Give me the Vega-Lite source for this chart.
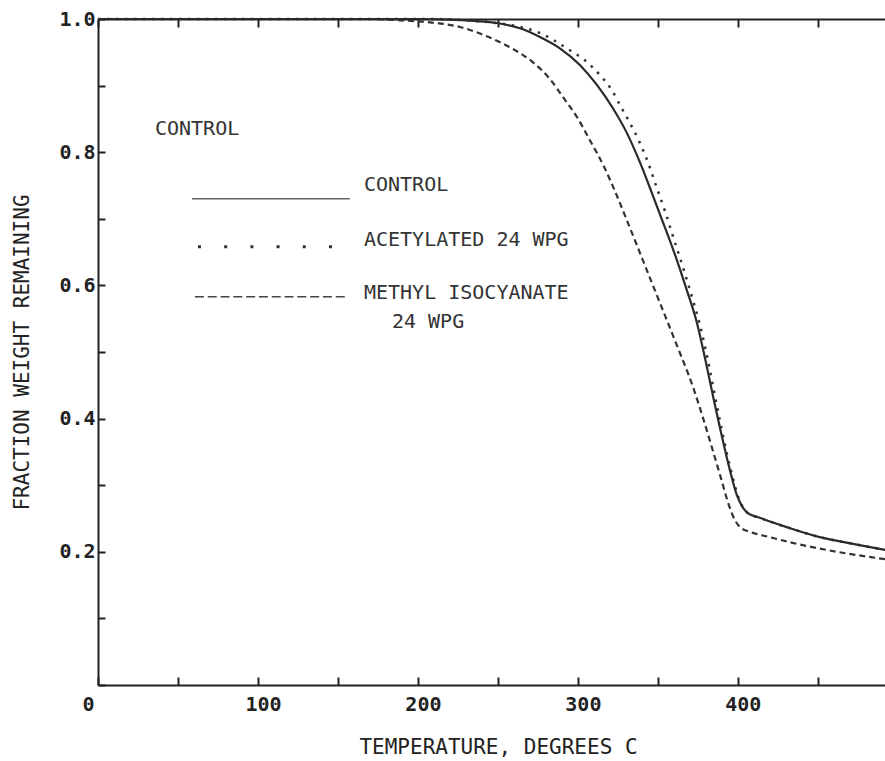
{
  "$schema": "https://vega.github.io/schema/vega-lite/v6.json",
  "width": 787,
  "height": 666,
  "autosize": "none",
  "padding": {"left": 98, "top": 19, "right": 0, "bottom": 76},
  "background": "white",
  "config": {
    "font": "DejaVu Sans Mono",
    "view": {"stroke": null},
    "axis": {
      "domainColor": "#222",
      "domainWidth": 2,
      "tickColor": "#222",
      "tickWidth": 2,
      "tickSize": -8,
      "grid": false,
      "labelFont": "DejaVu Sans Mono",
      "labelFontSize": 20,
      "labelFontWeight": "bold",
      "labelColor": "#222",
      "titleFont": "DejaVu Sans Mono",
      "titleFontSize": 21,
      "titleFontWeight": "normal",
      "titleColor": "#222"
    }
  },
  "datasets": {
    "curves": [
      {"series": "CONTROL", "temp": 0, "frac": 1.0},
      {"series": "CONTROL", "temp": 100, "frac": 1.0},
      {"series": "CONTROL", "temp": 200, "frac": 1.0},
      {"series": "CONTROL", "temp": 220, "frac": 0.999},
      {"series": "CONTROL", "temp": 235, "frac": 0.997},
      {"series": "CONTROL", "temp": 249.4, "frac": 0.994},
      {"series": "CONTROL", "temp": 263.75, "frac": 0.986},
      {"series": "CONTROL", "temp": 276.25, "frac": 0.973},
      {"series": "CONTROL", "temp": 288.75, "frac": 0.956},
      {"series": "CONTROL", "temp": 301.25, "frac": 0.931},
      {"series": "CONTROL", "temp": 311.9, "frac": 0.901},
      {"series": "CONTROL", "temp": 321.9, "frac": 0.866},
      {"series": "CONTROL", "temp": 330.6, "frac": 0.829},
      {"series": "CONTROL", "temp": 338.75, "frac": 0.785},
      {"series": "CONTROL", "temp": 345.6, "frac": 0.743},
      {"series": "CONTROL", "temp": 351.25, "frac": 0.707},
      {"series": "CONTROL", "temp": 359.4, "frac": 0.655},
      {"series": "CONTROL", "temp": 368.1, "frac": 0.593},
      {"series": "CONTROL", "temp": 374.4, "frac": 0.544},
      {"series": "CONTROL", "temp": 380, "frac": 0.485},
      {"series": "CONTROL", "temp": 385, "frac": 0.428},
      {"series": "CONTROL", "temp": 389.4, "frac": 0.38},
      {"series": "CONTROL", "temp": 395, "frac": 0.323},
      {"series": "CONTROL", "temp": 399.4, "frac": 0.285},
      {"series": "CONTROL", "temp": 402.5, "frac": 0.269},
      {"series": "CONTROL", "temp": 406.25, "frac": 0.258},
      {"series": "CONTROL", "temp": 413.75, "frac": 0.251},
      {"series": "CONTROL", "temp": 430.6, "frac": 0.237},
      {"series": "CONTROL", "temp": 451.25, "frac": 0.222},
      {"series": "CONTROL", "temp": 471.9, "frac": 0.212},
      {"series": "CONTROL", "temp": 492, "frac": 0.203},

      {"series": "ACETYLATED", "temp": 0, "frac": 1.0},
      {"series": "ACETYLATED", "temp": 100, "frac": 1.0},
      {"series": "ACETYLATED", "temp": 210, "frac": 1.0},
      {"series": "ACETYLATED", "temp": 230, "frac": 0.998},
      {"series": "ACETYLATED", "temp": 245, "frac": 0.995},
      {"series": "ACETYLATED", "temp": 257.5, "frac": 0.991},
      {"series": "ACETYLATED", "temp": 276.25, "frac": 0.979},
      {"series": "ACETYLATED", "temp": 295, "frac": 0.953},
      {"series": "ACETYLATED", "temp": 304.4, "frac": 0.938},
      {"series": "ACETYLATED", "temp": 313.75, "frac": 0.916},
      {"series": "ACETYLATED", "temp": 321.25, "frac": 0.893},
      {"series": "ACETYLATED", "temp": 326.25, "frac": 0.871},
      {"series": "ACETYLATED", "temp": 332.5, "frac": 0.844},
      {"series": "ACETYLATED", "temp": 338.75, "frac": 0.814},
      {"series": "ACETYLATED", "temp": 344.4, "frac": 0.781},
      {"series": "ACETYLATED", "temp": 349.4, "frac": 0.746},
      {"series": "ACETYLATED", "temp": 354.4, "frac": 0.712},
      {"series": "ACETYLATED", "temp": 359.4, "frac": 0.674},
      {"series": "ACETYLATED", "temp": 365.6, "frac": 0.628},
      {"series": "ACETYLATED", "temp": 371.9, "frac": 0.578},
      {"series": "ACETYLATED", "temp": 377.5, "frac": 0.529},
      {"series": "ACETYLATED", "temp": 381.9, "frac": 0.48},
      {"series": "ACETYLATED", "temp": 385.6, "frac": 0.435},
      {"series": "ACETYLATED", "temp": 389.4, "frac": 0.39},
      {"series": "ACETYLATED", "temp": 393.1, "frac": 0.348},
      {"series": "ACETYLATED", "temp": 396.9, "frac": 0.311},
      {"series": "ACETYLATED", "temp": 400, "frac": 0.284},
      {"series": "ACETYLATED", "temp": 403.1, "frac": 0.267},
      {"series": "ACETYLATED", "temp": 406.25, "frac": 0.258},
      {"series": "ACETYLATED", "temp": 413.75, "frac": 0.251},
      {"series": "ACETYLATED", "temp": 430.6, "frac": 0.237},
      {"series": "ACETYLATED", "temp": 451.25, "frac": 0.222},
      {"series": "ACETYLATED", "temp": 471.9, "frac": 0.212},
      {"series": "ACETYLATED", "temp": 492, "frac": 0.203},

      {"series": "METHYL", "temp": 0, "frac": 1.0},
      {"series": "METHYL", "temp": 100, "frac": 1.0},
      {"series": "METHYL", "temp": 170, "frac": 1.0},
      {"series": "METHYL", "temp": 188.75, "frac": 0.998},
      {"series": "METHYL", "temp": 207.5, "frac": 0.995},
      {"series": "METHYL", "temp": 226.25, "frac": 0.988},
      {"series": "METHYL", "temp": 243.1, "frac": 0.974},
      {"series": "METHYL", "temp": 259.4, "frac": 0.955},
      {"series": "METHYL", "temp": 271.9, "frac": 0.935},
      {"series": "METHYL", "temp": 282.5, "frac": 0.91},
      {"series": "METHYL", "temp": 290.6, "frac": 0.883},
      {"series": "METHYL", "temp": 299.4, "frac": 0.853},
      {"series": "METHYL", "temp": 307.5, "frac": 0.818},
      {"series": "METHYL", "temp": 315.6, "frac": 0.782},
      {"series": "METHYL", "temp": 323.1, "frac": 0.742},
      {"series": "METHYL", "temp": 330.6, "frac": 0.698},
      {"series": "METHYL", "temp": 340.6, "frac": 0.638},
      {"series": "METHYL", "temp": 351.25, "frac": 0.574},
      {"series": "METHYL", "temp": 361.9, "frac": 0.51},
      {"series": "METHYL", "temp": 371.9, "frac": 0.448},
      {"series": "METHYL", "temp": 378.1, "frac": 0.402},
      {"series": "METHYL", "temp": 383.75, "frac": 0.357},
      {"series": "METHYL", "temp": 389.4, "frac": 0.311},
      {"series": "METHYL", "temp": 394.4, "frac": 0.27},
      {"series": "METHYL", "temp": 398.1, "frac": 0.248},
      {"series": "METHYL", "temp": 401.9, "frac": 0.236},
      {"series": "METHYL", "temp": 407.5, "frac": 0.23},
      {"series": "METHYL", "temp": 420, "frac": 0.222},
      {"series": "METHYL", "temp": 440.6, "frac": 0.21},
      {"series": "METHYL", "temp": 461.9, "frac": 0.2},
      {"series": "METHYL", "temp": 492, "frac": 0.189}
    ],
    "keyLines": [
      {"series": "CONTROL", "temp": 58.75, "frac": 0.730},
      {"series": "CONTROL", "temp": 157.5, "frac": 0.730},
      {"series": "ACETYLATED", "temp": 62.5, "frac": 0.658},
      {"series": "ACETYLATED", "temp": 146.5, "frac": 0.658},
      {"series": "METHYL", "temp": 60.6, "frac": 0.583},
      {"series": "METHYL", "temp": 156, "frac": 0.583}
    ],
    "labels": [
      {"text": "CONTROL", "temp": 35.6, "frac": 0.835},
      {"text": "CONTROL", "temp": 166.25, "frac": 0.751},
      {"text": "ACETYLATED 24 WPG", "temp": 166.25, "frac": 0.668},
      {"text": "METHYL ISOCYANATE", "temp": 166.25, "frac": 0.589},
      {"text": "24 WPG", "temp": 183.75, "frac": 0.545}
    ]
  },
  "resolve": {"axis": {"x": "independent"}},
  "layer": [
    {
      "data": {"name": "curves"},
      "transform": [{"filter": "datum.series == 'ACETYLATED'"}],
      "mark": {"type": "line", "interpolate": "monotone", "stroke": "#333", "strokeWidth": 2.5, "strokeDash": [2.5, 6.5]},
      "encoding": {
        "x": {"field": "temp", "type": "quantitative", "scale": {"domain": [0, 492], "nice": false, "zero": false},
          "axis": {"orient": "top", "values": [0, 50, 100, 150, 200, 250, 300, 350, 400, 450], "labels": false, "title": null, "domain": true}},
        "y": {"field": "frac", "type": "quantitative", "scale": {"domain": [0, 1], "nice": false},
          "axis": {"orient": "left", "values": [0, 0.1, 0.2, 0.3, 0.4, 0.5, 0.6, 0.7, 0.8, 0.9, 1.0],
            "labelExpr": "datum.value == 0 || round(datum.value * 10) % 2 == 1 ? '' : format(datum.value, '.1f')",
            "labelPadding": 10, "labelDy": 3, "tickSize": -7,
            "title": "FRACTION WEIGHT REMAINING", "titleX": -76, "titleY": 333, "titleAngle": -90,
            "titleBaseline": "middle", "titleAlign": "center"}}
      }
    },
    {
      "data": {"name": "curves"},
      "transform": [{"filter": "datum.series == 'METHYL'"}],
      "mark": {"type": "line", "interpolate": "monotone", "stroke": "#333", "strokeWidth": 2.2, "strokeDash": [6, 4]},
      "encoding": {
        "x": {"field": "temp", "type": "quantitative", "scale": {"domain": [0, 492], "nice": false, "zero": false},
          "axis": {"orient": "bottom", "values": [0, 50, 100, 150, 200, 250, 300, 350, 400, 450],
            "labelExpr": "datum.value % 100 == 0 ? datum.label : ''", "labelPadding": 17, "labelFlush": false,
            "labelOffset": {"condition": {"test": "datum.value == 0", "value": -10}, "value": 5},
            "title": "TEMPERATURE, DEGREES C", "titleX": 400, "titleY": 62, "titleBaseline": "middle"}},
        "y": {"field": "frac", "type": "quantitative"}
      }
    },
    {
      "data": {"name": "curves"},
      "transform": [{"filter": "datum.series == 'CONTROL'"}],
      "mark": {"type": "line", "interpolate": "monotone", "stroke": "#2a2a2a", "strokeWidth": 2.2},
      "encoding": {
        "x": {"field": "temp", "type": "quantitative", "axis": null},
        "y": {"field": "frac", "type": "quantitative"}
      }
    },
    {
      "data": {"name": "keyLines"},
      "transform": [{"filter": "datum.series == 'CONTROL'"}],
      "mark": {"type": "line", "stroke": "#666", "strokeWidth": 1.6},
      "encoding": {
        "x": {"field": "temp", "type": "quantitative", "axis": null},
        "y": {"field": "frac", "type": "quantitative"}
      }
    },
    {
      "data": {"name": "keyLines"},
      "transform": [{"filter": "datum.series == 'ACETYLATED'"}],
      "mark": {"type": "line", "stroke": "#333", "strokeWidth": 3, "strokeDash": [3, 23.2]},
      "encoding": {
        "x": {"field": "temp", "type": "quantitative", "axis": null},
        "y": {"field": "frac", "type": "quantitative"}
      }
    },
    {
      "data": {"name": "keyLines"},
      "transform": [{"filter": "datum.series == 'METHYL'"}],
      "mark": {"type": "line", "stroke": "#444", "strokeWidth": 1.6, "strokeDash": [9, 3.8]},
      "encoding": {
        "x": {"field": "temp", "type": "quantitative", "axis": null},
        "y": {"field": "frac", "type": "quantitative"}
      }
    },
    {
      "data": {"name": "labels"},
      "mark": {"type": "text", "align": "left", "baseline": "middle", "font": "DejaVu Sans Mono", "fontSize": 20, "color": "#333"},
      "encoding": {
        "x": {"field": "temp", "type": "quantitative", "axis": null},
        "y": {"field": "frac", "type": "quantitative"},
        "text": {"field": "text"}
      }
    }
  ]
}
